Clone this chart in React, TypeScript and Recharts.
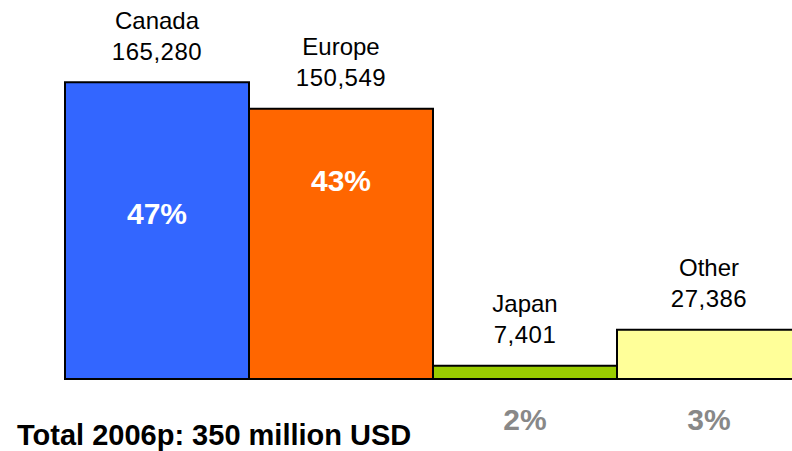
import { BarChart, Bar, XAxis, YAxis, Cell, LabelList, ReferenceLine } from 'recharts'

const regions = ['Canada', 'Europe', 'Japan', 'Other']
const amounts = [165280, 150549, 7401, 27386]
const shares = ['47%', '43%', '2%', '3%']
const totalNote = 'Total 2006p: 350 million USD'

const COLORS = ['#3366FF', '#FF6600', '#99CC00', '#FFFF99']
// how far below the bar top the share text sits (only for the big bars)
const SHARE_OFFSET = [131, 72]
const FONT = '"Liberation Sans", Arial, sans-serif'

const data = regions.map((r, i) => ({ region: r, amount: amounts[i], share: shares[i] }))

function NameLabel(props: any) {
  const { x, y, width, index } = props
  const cx = x + width / 2
  return (
    <g>
      <text x={cx} y={y - 62} textAnchor="middle" dominantBaseline="central" fontSize={24} fontFamily={FONT} fill="#000">
        {regions[index]}
      </text>
      <text x={cx} y={y - 31} textAnchor="middle" dominantBaseline="central" fontSize={24} fontFamily={FONT} fill="#000" letterSpacing={0.5}>
        {amounts[index].toLocaleString('en-US')}
      </text>
    </g>
  )
}

function ShareLabel(props: any) {
  const { x, y, width, height, index } = props
  const cx = x + width / 2
  const inside = index < SHARE_OFFSET.length
  const ty = inside ? y + SHARE_OFFSET[index] : y + height + 40
  return (
    <text x={cx} y={ty} textAnchor="middle" dominantBaseline="central" fontSize={30} fontWeight="bold" fontFamily={FONT} fill={inside ? '#fff' : '#888'}>
      {shares[index]}
    </text>
  )
}

export default function App() {
  return (
    <div style={{ position: 'absolute', left: 0, top: 0, width: 792, height: 451, overflow: 'hidden', background: '#fff' }}>
      <BarChart width={810} height={451} data={data} barCategoryGap={0} margin={{ top: 20, right: 9, left: 65, bottom: 72 }}>
        <XAxis dataKey="region" hide />
        <YAxis hide domain={[0, 200000]} />
        <Bar dataKey="amount" isAnimationActive={false} stroke="#000" strokeWidth={2}>
          {data.map((d, i) => (
            <Cell key={d.region} fill={COLORS[i]} />
          ))}
          <LabelList dataKey="amount" content={NameLabel} />
          <LabelList dataKey="share" content={ShareLabel} />
        </Bar>
        <ReferenceLine y={0} stroke="#000" strokeWidth={2} />
      </BarChart>
      <div style={{ position: 'absolute', left: 17, top: 419, fontFamily: FONT, fontWeight: 'bold', fontSize: 29, color: '#000', whiteSpace: 'nowrap' }}>
        {totalNote}
      </div>
    </div>
  )
}
